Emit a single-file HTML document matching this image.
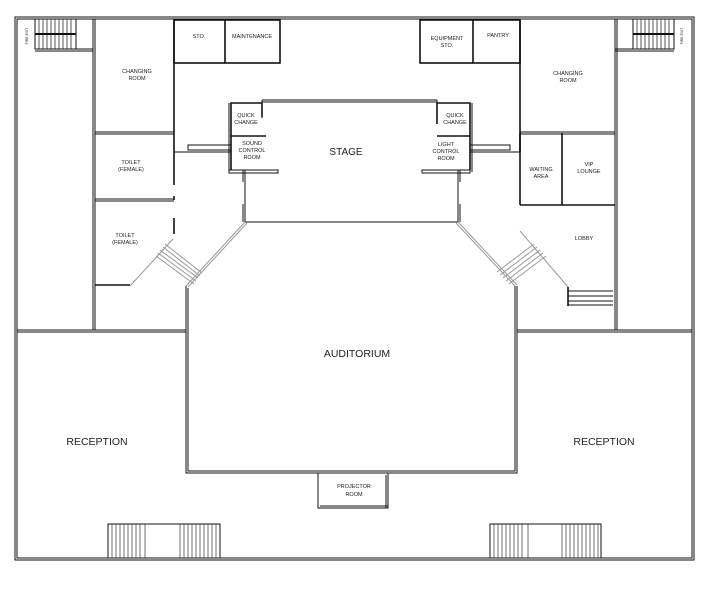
<!DOCTYPE html>
<html><head><meta charset="utf-8"><style>
html,body{margin:0;padding:0;background:#fff;}
svg{display:block;}
text{font-family:"Liberation Sans",sans-serif;fill:#222;}
.s{font-size:5.5px;}
</style></head><body>
<svg width="711" height="593" viewBox="0 0 711 593" xmlns="http://www.w3.org/2000/svg">
<g fill="none" stroke="#111" stroke-width="1">
<!-- outer double border -->
<rect x="15" y="17" width="679" height="543"/>
<rect x="17" y="19" width="675" height="539"/>
<!-- left column -->
<line x1="93" y1="19" x2="93" y2="330"/><line x1="95" y1="19" x2="95" y2="330"/>
<line x1="17" y1="330" x2="186" y2="330"/><line x1="17" y1="332" x2="186" y2="332"/>
<!-- right column -->
<line x1="615" y1="19" x2="615" y2="330"/><line x1="617" y1="19" x2="617" y2="330"/>
<line x1="517" y1="330" x2="692" y2="330"/><line x1="517" y1="332" x2="692" y2="332"/>
<!-- fire stairs -->
<rect x="35" y="19" width="41" height="30"/>
<line x1="35" y1="49" x2="93" y2="49"/><line x1="35" y1="51" x2="93" y2="51"/>
<line x1="35" y1="34" x2="76" y2="34" stroke-width="2"/>
<rect x="633" y="19" width="41" height="30"/>
<line x1="615" y1="49" x2="674" y2="49"/><line x1="615" y1="51" x2="674" y2="51"/>
<line x1="633" y1="34" x2="674" y2="34" stroke-width="2"/>
</g>
<g stroke="#111" stroke-width="0.7">
<line x1="39" y1="19" x2="39" y2="49"/><line x1="43" y1="19" x2="43" y2="49"/><line x1="47" y1="19" x2="47" y2="49"/><line x1="51" y1="19" x2="51" y2="49"/><line x1="55" y1="19" x2="55" y2="49"/><line x1="59" y1="19" x2="59" y2="49"/><line x1="63" y1="19" x2="63" y2="49"/><line x1="67" y1="19" x2="67" y2="49"/><line x1="71" y1="19" x2="71" y2="49"/>
<line x1="637" y1="19" x2="637" y2="49"/><line x1="641" y1="19" x2="641" y2="49"/><line x1="645" y1="19" x2="645" y2="49"/><line x1="649" y1="19" x2="649" y2="49"/><line x1="653" y1="19" x2="653" y2="49"/><line x1="657" y1="19" x2="657" y2="49"/><line x1="661" y1="19" x2="661" y2="49"/><line x1="665" y1="19" x2="665" y2="49"/><line x1="669" y1="19" x2="669" y2="49"/>
</g>
<g fill="none" stroke="#111" stroke-width="1.6">
<!-- left rooms -->
<line x1="174" y1="20" x2="174" y2="185"/>
<line x1="174" y1="196" x2="174" y2="200"/>
<line x1="174" y1="218" x2="174" y2="234"/>
<line x1="95" y1="285" x2="130" y2="285"/>
<!-- top left small rooms -->
<rect x="174" y="20" width="106" height="43"/>
<line x1="225" y1="20" x2="225" y2="63"/>
<!-- top right small rooms -->
<rect x="420" y="20" width="100" height="43"/>
<line x1="473" y1="20" x2="473" y2="63"/>
<line x1="520" y1="20" x2="520" y2="152"/>
<line x1="520" y1="133" x2="520" y2="205"/>
<line x1="520" y1="205" x2="615" y2="205"/>
<line x1="562" y1="133" x2="562" y2="205"/>
</g>
<g fill="none" stroke="#111" stroke-width="1">
<line x1="95" y1="132" x2="174" y2="132"/><line x1="95" y1="134" x2="174" y2="134"/>
<line x1="95" y1="199" x2="174" y2="199"/><line x1="95" y1="201" x2="174" y2="201"/>
<line x1="520" y1="132" x2="615" y2="132"/><line x1="520" y1="134" x2="615" y2="134"/>
<line x1="174" y1="152" x2="231" y2="152"/>
<rect x="188" y="145" width="43" height="5"/>
<line x1="470" y1="152" x2="520" y2="152"/>
<rect x="470" y="145" width="40" height="5"/>
<!-- stage -->
<line x1="262" y1="100" x2="437" y2="100"/><line x1="262" y1="102" x2="437" y2="102"/>
<line x1="262" y1="100" x2="262" y2="118"/>
<line x1="437" y1="100" x2="437" y2="118"/>
<line x1="245" y1="222" x2="458" y2="222"/>
<line x1="245" y1="170" x2="245" y2="222"/><line x1="243" y1="204" x2="243" y2="222"/>
<line x1="458" y1="170" x2="458" y2="222"/><line x1="460" y1="204" x2="460" y2="222"/>
<line x1="243" y1="170" x2="243" y2="182"/><line x1="460" y1="170" x2="460" y2="182"/>
<!-- left booth -->
<line x1="229" y1="103" x2="229" y2="172"/>
<rect x="229" y="170" width="49" height="3"/>
<rect x="422" y="170" width="48" height="3"/>
<line x1="472" y1="103" x2="472" y2="172"/>
</g>
<g fill="none" stroke="#111" stroke-width="1.6">
<polyline points="262,103 231,103 231,170"/>
<line x1="231" y1="136" x2="266" y2="136"/>
<polyline points="437,103 470,103 470,170"/>
<line x1="437" y1="136" x2="470" y2="136"/>
<line x1="437" y1="103" x2="437" y2="124"/>
<line x1="262" y1="103" x2="262" y2="117"/>
</g>
<!-- diagonals -->
<g fill="none" stroke="#999" stroke-width="1">
<line x1="130" y1="286" x2="173" y2="239"/>
<line x1="186" y1="286" x2="245" y2="222"/><line x1="188" y1="287" x2="247" y2="223"/>
<line x1="458" y1="222" x2="517" y2="285"/><line x1="456" y1="223" x2="515" y2="286"/>
<line x1="520" y1="231" x2="568" y2="287"/>
<line x1="160" y1="250" x2="198" y2="278"/><line x1="158" y1="253" x2="196" y2="281"/><line x1="156" y1="256" x2="194" y2="284"/><line x1="163" y1="247" x2="200" y2="276"/><line x1="165" y1="244" x2="202" y2="273"/>
<line x1="537" y1="247" x2="500" y2="275"/><line x1="540" y1="250" x2="503" y2="278"/><line x1="543" y1="253" x2="506" y2="281"/><line x1="534" y1="244" x2="497" y2="272"/><line x1="546" y1="256" x2="509" y2="284"/>
</g>
<g fill="none" stroke="#111" stroke-width="1">
<!-- right lobby stair -->
<line x1="568" y1="287" x2="568" y2="306" stroke-width="1.6"/>
<line x1="568" y1="291" x2="613" y2="291"/><line x1="568" y1="296" x2="613" y2="296"/><line x1="568" y1="301" x2="613" y2="301"/><line x1="568" y1="305" x2="613" y2="305"/>
<!-- auditorium -->
<polyline points="186,286 186,473 517,473 517,286"/>
<polyline points="188,288 188,471 515,471 515,286"/>
<line x1="188" y1="288" x2="188" y2="288"/>
<!-- projector -->
<rect x="318" y="473" width="70" height="35"/>
<line x1="320" y1="506" x2="388" y2="506"/>
<line x1="386" y1="475" x2="386" y2="508"/>
<!-- bottom stairs -->
<rect x="108" y="524" width="112" height="34"/>
<rect x="490" y="524" width="111" height="34"/>
</g>
<g stroke="#111" stroke-width="0.6">
<line x1="112" y1="524" x2="112" y2="558"/><line x1="116" y1="524" x2="116" y2="558"/><line x1="120" y1="524" x2="120" y2="558"/><line x1="124" y1="524" x2="124" y2="558"/><line x1="128" y1="524" x2="128" y2="558"/><line x1="132" y1="524" x2="132" y2="558"/><line x1="136" y1="524" x2="136" y2="558"/><line x1="140" y1="524" x2="140" y2="558"/><line x1="145" y1="524" x2="145" y2="558"/>
<line x1="180" y1="524" x2="180" y2="558"/><line x1="184" y1="524" x2="184" y2="558"/><line x1="188" y1="524" x2="188" y2="558"/><line x1="192" y1="524" x2="192" y2="558"/><line x1="196" y1="524" x2="196" y2="558"/><line x1="200" y1="524" x2="200" y2="558"/><line x1="204" y1="524" x2="204" y2="558"/><line x1="208" y1="524" x2="208" y2="558"/><line x1="212" y1="524" x2="212" y2="558"/><line x1="216" y1="524" x2="216" y2="558"/>
<line x1="494" y1="524" x2="494" y2="558"/><line x1="498" y1="524" x2="498" y2="558"/><line x1="502" y1="524" x2="502" y2="558"/><line x1="506" y1="524" x2="506" y2="558"/><line x1="510" y1="524" x2="510" y2="558"/><line x1="514" y1="524" x2="514" y2="558"/><line x1="518" y1="524" x2="518" y2="558"/><line x1="522" y1="524" x2="522" y2="558"/><line x1="528" y1="524" x2="528" y2="558"/>
<line x1="562" y1="524" x2="562" y2="558"/><line x1="566" y1="524" x2="566" y2="558"/><line x1="570" y1="524" x2="570" y2="558"/><line x1="574" y1="524" x2="574" y2="558"/><line x1="578" y1="524" x2="578" y2="558"/><line x1="582" y1="524" x2="582" y2="558"/><line x1="586" y1="524" x2="586" y2="558"/><line x1="590" y1="524" x2="590" y2="558"/><line x1="594" y1="524" x2="594" y2="558"/><line x1="598" y1="524" x2="598" y2="558"/>
</g>
<!-- labels -->
<g text-anchor="middle">
<text class="s" x="137" y="73">CHANGING</text><text class="s" x="137" y="80">ROOM</text>
<text class="s" x="131" y="164">TOILET</text><text class="s" x="131" y="171">(FEMALE)</text>
<text class="s" x="125" y="237">TOILET</text><text class="s" x="125" y="244">(FEMALE)</text>
<text class="s" x="199" y="38">STO.</text>
<text class="s" x="252" y="38">MAINTENANCE</text>
<text class="s" x="447" y="40">EQUIPMENT</text><text class="s" x="447" y="47">STO.</text>
<text class="s" x="498" y="37">PANTRY</text>
<text class="s" x="568" y="75">CHANGING</text><text class="s" x="568" y="82">ROOM</text>
<text class="s" x="246" y="117">QUICK</text><text class="s" x="246" y="124">CHANGE</text>
<text class="s" x="252" y="145">SOUND</text><text class="s" x="252" y="152">CONTROL</text><text class="s" x="252" y="159">ROOM</text>
<text class="s" x="455" y="117">QUICK</text><text class="s" x="455" y="124">CHANGE</text>
<text class="s" x="446" y="146">LIGHT</text><text class="s" x="446" y="153">CONTROL</text><text class="s" x="446" y="160">ROOM</text>
<text class="s" x="541" y="171">WAITING</text><text class="s" x="541" y="178">AREA</text>
<text class="s" x="589" y="166">VIP</text><text class="s" x="589" y="173">LOUNGE</text>
<text class="s" x="584" y="240">LOBBY</text>
<text x="346" y="155" font-size="10">STAGE</text>
<text x="357" y="357" font-size="10.5">AUDITORIUM</text>
<text x="97" y="445" font-size="10.5">RECEPTION</text>
<text x="604" y="445" font-size="10.5">RECEPTION</text>
<text class="s" x="354" y="488">PROJECTOR</text><text class="s" x="354" y="496">ROOM</text>
<text font-size="3.5" x="0" y="0" transform="translate(28,36) rotate(-90)">FIRE EXIT</text>
<text font-size="3.5" x="0" y="0" transform="translate(683,36) rotate(-90)">FIRE EXIT</text>
</g>
</svg>
</body></html>
